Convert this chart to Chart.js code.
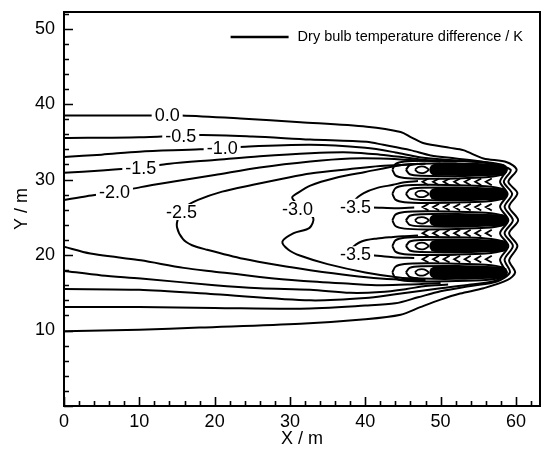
<!DOCTYPE html>
<html>
<head>
<meta charset="utf-8">
<script src="https://cdn.jsdelivr.net/npm/chart.js@4.4.0/dist/chart.umd.min.js"></script>
<style>
body{margin:0;background:#fff;}
canvas{display:block;}
</style>
</head>
<body>
<canvas id="mycanvas" width="543" height="450"></canvas>
<script>
// contour lines of the dry bulb temperature difference, points are [x, y] in m
var c00 = [[0,38.5],[11.6,38.5],[15.6,38.5],[23.4,38.1],[31.4,37.6],[40.2,37.0],[44.7,36.3],[46.1,35.6],[47.8,34.8],[51.3,34.2],[53.0,33.9],[55.7,32.8],[58.8,32.3],[60.1,31.3],[59.0,29.7],[60.2,28.2],[59.1,26.4],[60.3,24.6],[59.1,22.9],[60.2,21.2],[59.1,19.3],[59.9,17.7],[58.9,16.7],[55.7,15.6],[52.6,14.9],[50.0,14.1],[47.3,13.1],[44.7,12.1],[40.0,11.5],[31.4,10.9],[18.0,10.4],[10.0,10.1],[0,9.9]];
var c05 = [[0,35.5],[10,35.6],[18.1,35.9],[25,35.7],[32.7,35.3],[40.2,35.0],[42.4,34.6],[46,33.9],[48.7,33.2],[52,32.8],[56,32.3],[59.3,31.3],[58.4,29.7],[59.5,28.1],[58.5,26.4],[59.6,24.6],[58.5,22.9],[59.6,21.2],[58.5,19.4],[59.2,17.7],[57.5,16.5],[54,15.9],[50,15.2],[47,14.4],[44,13.6],[40,13.3],[31.4,12.9],[20,13.0],[10,13.1],[0,13.1]];
var c10 = [[0,33.0],[5,33.3],[10,33.7],[18.1,34.0],[23,34.3],[32.7,34.6],[40,34.2],[44,33.6],[47,33.0],[50,32.7],[54,32.4],[57.5,32.0],[58.7,31.3],[57.9,29.7],[58.9,28.1],[57.9,26.4],[59.0,24.6],[57.9,22.9],[59.0,21.2],[57.9,19.4],[58.6,17.7],[57.3,16.6],[54,16.1],[50,15.6],[47,15.2],[44,14.8],[40,14.3],[32.7,14.0],[20,14.8],[10,15.4],[0,15.5]];
var c15top = [[0,30.9],[5,31.2],[10.1,31.6],[14,32.1],[20,32.6],[26,33.1],[32.7,33.5],[38,33.6],[42,33.3],[45.5,32.9],[48,32.6],[51,32.5]];
var c15bot = [[0,17.9],[5,17.3],[10.2,16.9],[20,16.0],[26,15.6],[32.7,15.4],[38,15.0],[42,15.1],[45.5,15.5],[48,15.9],[51,16.1]];
var c20top = [[0,27.3],[3,27.8],[6.8,28.3],[10.2,29.0],[15,29.8],[20,30.6],[26,31.6],[32.7,32.4],[38,32.8],[42,32.8],[46,32.6],[50,32.4]];
var c20bot = [[0,21.1],[3.5,20.2],[7.1,19.7],[10.2,19.3],[15.9,18.3],[20,17.8],[26,17.1],[31.4,16.6],[38,16.2],[42,16.0],[46,16.1],[50,16.3]];
var c25 = [[48,32.1],[46,32.0],[42,31.8],[38,31.4],[32.7,30.8],[29,30.1],[25.1,29.3],[21,28.4],[17.8,27.3],[16.0,26.3],[15.2,25.0],[15.0,23.7],[15.8,22.1],[17,21.3],[19,20.7],[23.8,19.5],[28.7,18.6],[32.7,18.0],[38,17.3],[42,16.9],[46,16.7],[48,16.7]];
var c30 = [[47,32.1],[44.7,31.9],[40,31.0],[36,30.2],[32.7,29.2],[31,28.2],[30.3,27.6],[31.5,26.3],[33.1,24.9],[32.6,23.6],[30.5,22.9],[29.0,21.8],[29.8,20.7],[31.4,19.9],[35,18.8],[40,17.7],[44.7,17.0],[47,16.9]];
var c35a = [[47,29.8],[45,29.6],[43.7,29.3],[41.6,28.9],[39.8,28.2],[38.6,27.2],[38.9,26.3],[40.9,26.3],[44.2,26.2],[46.5,26.3]];
var c35b = [[47,22.6],[45,22.5],[43.7,22.4],[41.6,22.2],[39.5,21.8],[38.3,20.9],[38.8,20.1],[40.7,20.0],[43.7,19.7],[46.5,19.6]];

// the five dense lobes near x = 45..60 m
var lobeY = [31.3, 28.1, 24.6, 21.2, 17.7];
var loopOuter = [[43.6,0],[44.0,0.75],[45.2,1.1],[48,1.2],[52,1.15],[56,1.0],[58.2,0.65],[58.8,0],[58.2,-0.65],[56,-1.0],[52,-1.15],[48,-1.2],[45.2,-1.1],[44.0,-0.75],[43.6,0]];
var loopInner = [[45.4,0],[45.9,0.6],[47.4,0.8],[52,0.85],[57.4,0.6],[58.1,0],[57.4,-0.6],[52,-0.85],[47.4,-0.8],[45.9,-0.6],[45.4,0]];
var loopEye = [[46.6,0],[47.0,0.35],[47.8,0.4],[48.4,0],[47.8,-0.4],[47.0,-0.35],[46.6,0]];
var coreX = [49.3, 58.1];
var chevronY = [29.7, 26.35, 22.9, 19.45];
var chevronTip = [47.6, 49.0, 50.4, 51.8, 53.2, 54.6, 56.0];
var chevronArm = [[0.8,0.45],[0,0],[0.8,-0.45]];

// contour labels
var labelText = ['0.0','-0.5','-1.0','-1.5','-2.0','-2.5','-3.0','-3.5','-3.5'];
var labelX = [13.7, 15.5, 21.0, 10.2, 6.7, 15.6, 31.0, 38.7, 38.7];
var labelY = [38.6, 35.8, 34.2, 31.5, 28.3, 25.7, 26.1, 26.4, 20.1];

var xTicks = [0,10,20,30,40,50,60];
var yTicks = [10,20,30,40,50];
var legendText = 'Dry bulb temperature difference / K';

var FONT = '"Liberation Sans", Arial, sans-serif';

function pts(arr){
	return arr.map(function(p){ return {x:p[0], y:p[1]}; });
}
function shifted(shape, yc){
	return shape.map(function(p){ return {x:p[0], y:yc+p[1]}; });
}

var datasets = [];
function addLine(data, opts){
	opts = opts || {};
	datasets.push({
		data: data,
		showLine: true,
		borderColor: opts.color || '#000',
		borderWidth: opts.width || 2,
		borderDash: opts.dash || [],
		borderCapStyle: opts.cap || 'butt',
		pointRadius: 0,
		tension: opts.tension === undefined ? 0.3 : opts.tension,
		fill: false
	});
}

[c00, c05, c10, c15top, c15bot, c20top, c20bot, c25, c30, c35a, c35b].forEach(function(c){
	addLine(pts(c));
});

for (var i in lobeY) {
	addLine(shifted(loopOuter, lobeY[i]), {tension:0.25});
	addLine(shifted(loopInner, lobeY[i]), {tension:0.25});
	addLine(shifted(loopEye, lobeY[i]), {tension:0.3, width:1.8});
	addLine([{x:coreX[0], y:lobeY[i]}, {x:coreX[1], y:lobeY[i]}], {width:12, cap:'round', tension:0});
}
// white streaks inside the middle lobe
addLine([{x:coreX[0], y:lobeY[2]}, {x:coreX[1]-0.8, y:lobeY[2]}], {width:3, color:'#fff', dash:[9,4], tension:0});

for (var r in chevronY) {
	var row = [];
	for (var k in chevronTip) {
		chevronArm.forEach(function(a){ row.push({x:chevronTip[k]+a[0], y:chevronY[r]+a[1]}); });
		row.push({x:NaN, y:NaN});
	}
	addLine(row, {width:1.8, tension:0});
}

var frame = {
	id: 'frame',
	afterDraw: function(chart){
		var ctx = chart.ctx, a = chart.chartArea, xs = chart.scales.x, ys = chart.scales.y;
		ctx.save();
		ctx.strokeStyle = '#000';
		ctx.lineWidth = 1.6;
		ctx.beginPath();
		for (var v = 0; v <= xs.max; v += 2) {
			var px = Math.round(xs.getPixelForValue(v)) + 0.5;
			ctx.moveTo(px, a.bottom);
			ctx.lineTo(px, a.bottom - (v % 10 === 0 ? 9 : 5));
		}
		for (var w = 0; w <= ys.max; w += 2) {
			var py = Math.round(ys.getPixelForValue(w)) + 0.5;
			ctx.moveTo(a.left, py);
			ctx.lineTo(a.left + (w % 10 === 0 ? 9 : 5), py);
		}
		ctx.stroke();
		ctx.lineWidth = 2;
		ctx.strokeRect(a.left, a.top, a.right - a.left, a.bottom - a.top);

		// legend
		ctx.font = '14.5px ' + FONT;
		ctx.fillStyle = '#000';
		ctx.textBaseline = 'middle';
		var tw = ctx.measureText(legendText).width;
		var tx = a.right - 17 - tw, ty = a.top + 25;
		ctx.fillText(legendText, tx, ty);
		ctx.lineWidth = 2.5;
		ctx.beginPath();
		ctx.moveTo(tx - 9, ty);
		ctx.lineTo(tx - 67, ty);
		ctx.stroke();
		ctx.restore();
	}
};

var contourLabels = {
	id: 'contourLabels',
	afterDatasetsDraw: function(chart){
		var ctx = chart.ctx, xs = chart.scales.x, ys = chart.scales.y;
		ctx.save();
		ctx.font = '18px ' + FONT;
		ctx.textAlign = 'center';
		ctx.textBaseline = 'middle';
		for (var i in labelText) {
			var px = xs.getPixelForValue(labelX[i]);
			var py = ys.getPixelForValue(labelY[i]);
			var w = ctx.measureText(labelText[i]).width;
			ctx.fillStyle = '#fff';
			ctx.fillRect(px - w/2 - 3, py - 8, w + 6, 16);
			ctx.fillStyle = '#000';
			ctx.fillText(labelText[i], px, py + 1);
		}
		ctx.restore();
	}
};

Chart.defaults.font.family = FONT;
Chart.defaults.color = '#000';

var ctx = document.getElementById('mycanvas');
var chart = new Chart(ctx, {
	type: 'scatter',
	data: { datasets: datasets },
	plugins: [contourLabels, frame],
	options: {
		responsive: false,
		animation: false,
		devicePixelRatio: 1,
		layout: { padding: { top: 12, right: 3, left: 0, bottom: 0 } },
		plugins: { legend: { display: false }, tooltip: { enabled: false } },
		scales: {
			x: {
				type: 'linear',
				min: 0,
				max: 63.2,
				grid: { display: false, drawTicks: false },
				border: { display: false },
				ticks: {
					stepSize: 2,
					autoSkip: false,
					maxRotation: 0,
					padding: 5,
					font: { size: 18 },
					callback: function(v){ return xTicks.indexOf(v) >= 0 ? v : ''; }
				},
				title: { display: true, text: 'X / m', font: { size: 18 }, padding: { top: 0, bottom: 0 } },
				afterFit: function(s){ s.height = 44; s.paddingLeft = 0; s.paddingRight = 0; }
			},
			y: {
				type: 'linear',
				min: 0,
				max: 52.2,
				grid: { display: false, drawTicks: false },
				border: { display: false },
				ticks: {
					stepSize: 2,
					autoSkip: false,
					padding: 9,
					font: { size: 18 },
					callback: function(v){ return yTicks.indexOf(v) >= 0 ? v : ''; }
				},
				title: { display: true, text: 'Y / m', font: { size: 18 }, padding: { top: 11, bottom: 0 } },
				afterFit: function(s){ s.width = 64; s.paddingTop = 0; s.paddingBottom = 0; }
			}
		}
	}
});
</script>
</body>
</html>
